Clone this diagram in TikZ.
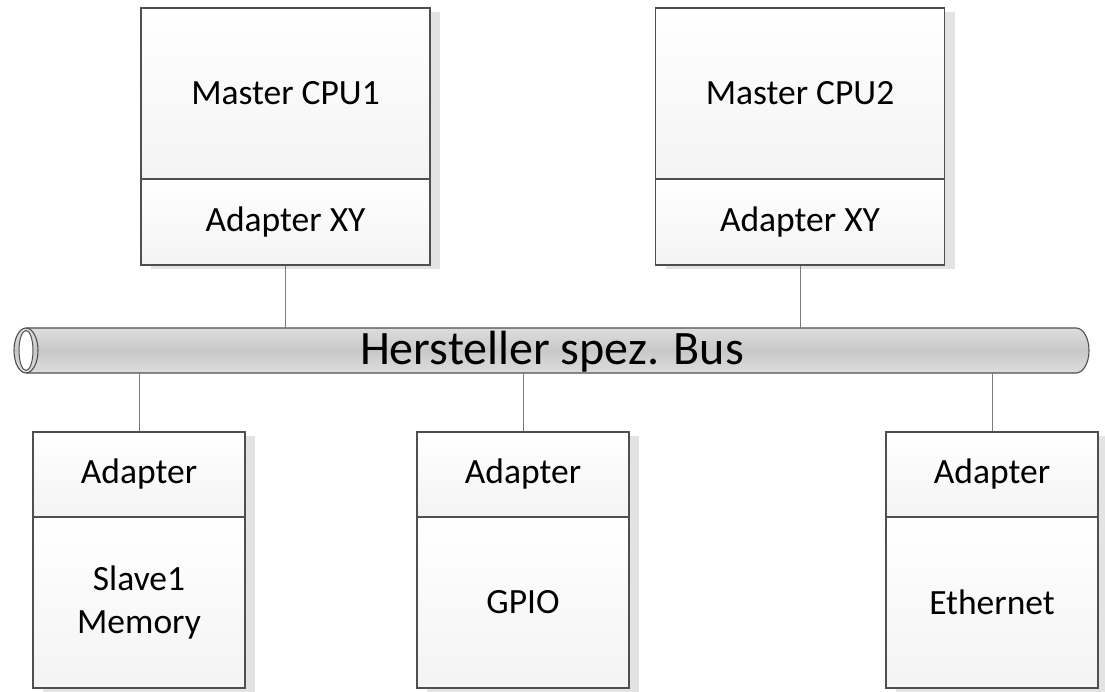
\documentclass[tikz,border=0pt]{standalone}
\usepackage{fontspec}
\setmainfont{Carlito}
\usetikzlibrary{shadows}
\definecolor{edgec}{HTML}{4F4F4F}
\definecolor{wirec}{HTML}{7A7A7A}
\definecolor{shadowc}{HTML}{E3E3E3}
\definecolor{busmid}{HTML}{C8C8C8}
\definecolor{busedge}{HTML}{DDDDDD}
\begin{document}
\begin{tikzpicture}[x=1pt,y=-1pt,
  comp/.style={draw=edgec, line width=1.1pt, top color=white, bottom color=gray!9,
    inner sep=0pt, align=center, font=\fontsize{35.5}{43}\selectfont,
    drop shadow={shadow xshift=10pt, shadow yshift=-4pt, fill=shadowc, opacity=1}},
  wire/.style={draw=wirec, line width=0.9pt},
  buslabel/.style={inner sep=0pt, minimum width=1050pt, minimum height=45pt,
    font=\fontsize{48}{58}\selectfont}]
\useasboundingbox[fill=white] (0,0) rectangle (1105,692);

% bus
\path[top color=busedge, bottom color=busedge, middle color=busmid]
  (26,328) -- (1076,328) arc[start angle=-90, end angle=90, x radius=13, y radius=22.5]
  -- (26,373) arc[start angle=90, end angle=270, x radius=12, y radius=22.5] -- cycle;
\draw[edgec, line width=1.1pt]
  (26,328) -- (1076,328) arc[start angle=-90, end angle=90, x radius=13, y radius=22.5]
  -- (26,373);
\draw[edgec, line width=1.1pt] (26,350.5) ellipse[x radius=12, y radius=22.5];
\draw[edgec, line width=1pt, fill=white] (26,350.5) ellipse[x radius=7, y radius=20];
\node[buslabel] (bus) at (552,352) {Hersteller spez. Bus};

% masters
\node[comp, minimum width=289pt, minimum height=171pt] (cpu1) at (285.5,93.5) {Master CPU1};
\node[comp, minimum width=289pt, minimum height=86pt] (cpu1a) at (285.5,222) {Adapter XY};
\node[comp, minimum width=289pt, minimum height=171pt] (cpu2) at (800,93.5) {Master CPU2};
\node[comp, minimum width=289pt, minimum height=86pt] (cpu2a) at (800,222) {Adapter XY};

% slaves
\node[comp, minimum width=212pt, minimum height=85pt] (s1a) at (139,474.5) {Adapter};
\node[comp, minimum width=212pt, minimum height=171pt] (s1) at (139,602.5) {Slave1\\Memory};
\node[comp, minimum width=212pt, minimum height=85pt] (s2a) at (523,474.5) {Adapter};
\node[comp, minimum width=212pt, minimum height=171pt] (s2) at (523,602.5) {GPIO};
\node[comp, minimum width=212pt, minimum height=85pt] (s3a) at (992,474.5) {Adapter};
\node[comp, minimum width=212pt, minimum height=171pt] (s3) at (992,602.5) {Ethernet};

% connectors
\coordinate (bustop) at (0,328);
\coordinate (busbot) at (0,373);
\draw[wire] (cpu1a.south) -- (cpu1a.south |- bustop);
\draw[wire] (cpu2a.south) -- (cpu2a.south |- bustop);
\draw[wire] (s1a.north) -- (s1a.north |- busbot);
\draw[wire] (s2a.north) -- (s2a.north |- busbot);
\draw[wire] (s3a.north) -- (s3a.north |- busbot);
\end{tikzpicture}
\end{document}
